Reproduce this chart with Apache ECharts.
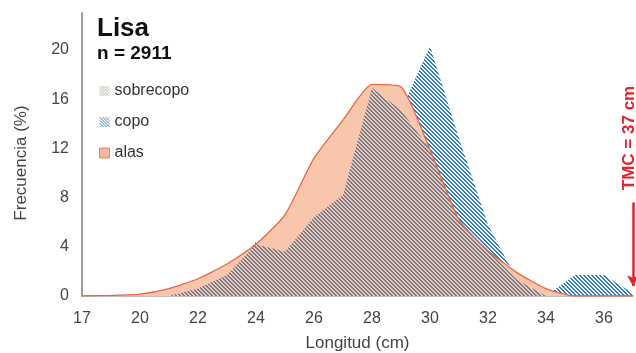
<!DOCTYPE html>
<html>
<head>
<meta charset="utf-8">
<script src="https://cdn.jsdelivr.net/npm/echarts@6/dist/echarts.min.js"></script>
<style>
  html, body { margin: 0; padding: 0; background: #ffffff; }
  #chart { width: 636px; height: 353px; }
</style>
</head>
<body>
<div id="chart"></div>
<script>
// Length classes (cm) along the x axis
const categories = ['17', '18', '20', '21', '22', '23', '24', '25', '26', '27',
                    '28', '29', '30', '31', '32', '33', '34', '35', '36', '37'];

// Length frequency (%) per gear section
const sobrecopo = [0, 0, 0, 0, 0.6, 1.7, 4.2, 3.6, 6.4, 8.2,
                   16.9, 15.1, 11.9, 6.2, 3.7, 1.3, 0, 0, 0, 0];
const copo = [0, 0, 0, 0, 0.6, 1.7, 4.4, 3.6, 6.4, 8.2,
              16.9, 15.1, 20.3, 12.8, 5.8, 1.3, 0, 1.7, 1.7, 0.2];
const alas = [0, 0.05, 0.15, 0.6, 1.4, 2.6, 4.2, 6.6, 11.2, 14.3,
              17.2, 17.0, 11.9, 6.2, 3.7, 1.9, 0.6, 0, 0, 0];

const yMin = 0, yMax = 23, yStep = 4;
const legendNames = ['sobrecopo', 'copo', 'alas'];

const FONT = "'Liberation Sans', Arial, sans-serif";

// Diagonal hatch tile; dir = 1 draws "\\\" stripes, -1 draws "///"
function hatch(color, bg, period, width, dir) {
  const c = document.createElement('canvas');
  c.width = period; c.height = period;
  const ctx = c.getContext('2d');
  if (bg) { ctx.fillStyle = bg; ctx.fillRect(0, 0, period, period); }
  ctx.fillStyle = color;
  for (let y = 0; y < period; y++) {
    for (let x = 0; x < period; x++) {
      const d = (((dir > 0 ? x - y : x + y) % period) + period) % period;
      if (d < width) ctx.fillRect(x, y, 1, 1);
    }
  }
  return { image: c, repeat: 'repeat' };
}

const blueHatch = hatch('#2b7bbf', null, 4, 2, 1);
const grayHatch = hatch('#6c7e94', null, 4, 2, 1);
const blueIcon = hatch('#3d7fb8', '#ffffff', 3, 1, 1);
const oliveIcon = hatch('#a7ac92', '#ffffff', 3, 1, -1);

const chart = echarts.init(document.getElementById('chart'), null, { renderer: 'canvas' });

chart.setOption({
  animation: false,
  backgroundColor: '#ffffff',
  grid: { left: 82, right: 3, top: 13, bottom: 57, containLabel: false, outerBoundsMode: 'none' },
  legend: {
    orient: 'vertical',
    left: 99,
    top: 83,
    padding: 0,
    itemWidth: 10,
    itemHeight: 10,
    itemGap: 15,
    textStyle: { fontFamily: FONT, fontSize: 16, color: '#333333' },
    data: [
      { name: legendNames[0], icon: 'rect', itemStyle: { color: oliveIcon, borderWidth: 0 } },
      { name: legendNames[1], icon: 'rect', itemStyle: { color: blueIcon, borderWidth: 0 } },
      { name: legendNames[2], icon: 'rect', itemStyle: { color: '#f3b79c', borderColor: '#e58462', borderWidth: 1 } }
    ]
  },
  xAxis: {
    type: 'category',
    data: categories,
    boundaryGap: false,
    name: 'Longitud (cm)',
    nameLocation: 'middle',
    nameGap: 39,
    nameTextStyle: { fontFamily: FONT, fontSize: 17, color: '#444444' },
    axisLine: { show: true, lineStyle: { color: '#b3aaa6', width: 1.5 } },
    axisTick: { show: false },
    axisLabel: { interval: 1, margin: 15, fontFamily: FONT, fontSize: 16, color: '#444444' },
    splitLine: { show: false }
  },
  yAxis: {
    type: 'value',
    min: yMin,
    max: yMax,
    interval: yStep,
    axisLine: { show: true, lineStyle: { color: '#a89c98', width: 2 } },
    axisTick: { show: false },
    axisLabel: { margin: 13, fontFamily: FONT, fontSize: 16, color: '#444444', showMaxLabel: false },
    splitLine: { show: false }
  },
  series: [
    {
      name: 'copo',
      type: 'line',
      data: copo,
      symbol: 'none',
      z: 1,
      lineStyle: { opacity: 0, width: 0 },
      areaStyle: { color: blueHatch, opacity: 1 },
      markLine: {
        silent: true,
        symbol: ['none', 'arrow'],
        symbolSize: [9, 11],
        label: { show: false },
        lineStyle: { color: '#e3222c', width: 2.5, type: 'solid' },
        data: [[{ coord: ['37', 7.6] }, { coord: ['37', 0.8] }]]
      }
    },
    {
      name: 'alas',
      type: 'line',
      data: alas,
      symbol: 'none',
      smooth: 0.18,
      z: 2,
      lineStyle: { opacity: 0, width: 0 },
      areaStyle: { color: '#f7c6ad', opacity: 1 }
    },
    {
      name: 'sobrecopo',
      type: 'line',
      data: sobrecopo,
      symbol: 'none',
      z: 3,
      lineStyle: { opacity: 0, width: 0 },
      areaStyle: { color: grayHatch, opacity: 1 }
    },
    {
      // outline of the wing catch, kept above the hatching
      name: 'alas',
      type: 'line',
      data: alas,
      symbol: 'none',
      smooth: 0.18,
      z: 4,
      lineStyle: { color: '#e8673f', width: 1.3 }
    }
  ],
  graphic: [
    {
      type: 'text', left: 97, top: 16,
      style: { text: 'Lisa', font: 'bold 26px ' + FONT, fill: '#111111' }
    },
    {
      type: 'text', left: 97, top: 44,
      style: { text: 'n = 2911', font: 'bold 19px ' + FONT, fill: '#111111' }
    },
    {
      type: 'text', x: 21, y: 163, rotation: Math.PI / 2,
      style: { text: 'Frecuencia (%)', font: '17px ' + FONT, fill: '#444444',
               align: 'center', verticalAlign: 'middle' }
    },
    {
      type: 'text', x: 629, y: 138, rotation: Math.PI / 2,
      style: { text: 'TMC = 37 cm', font: 'bold 17px ' + FONT, fill: '#e3222c',
               align: 'center', verticalAlign: 'middle' }
    }
  ]
});
</script>
</body>
</html>
